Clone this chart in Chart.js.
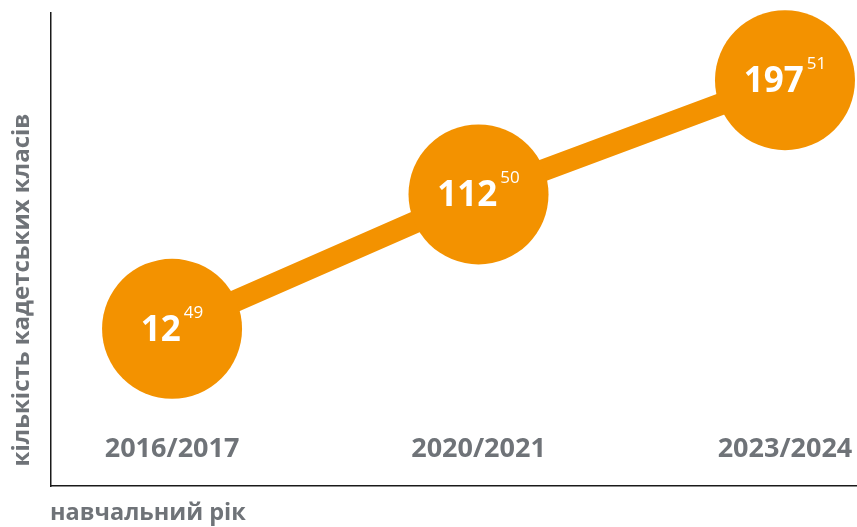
<!DOCTYPE html>
<html>
<head>
<meta charset="utf-8">
<script src="https://cdn.jsdelivr.net/npm/chart.js@4"></script>
<style>
    html, body { margin: 0; padding: 0; background: #fff; }
    #wrap { width: 857px; height: 527px; position: relative; }
</style>
</head>
<body>
<div id="wrap"><canvas id="classesChart"></canvas></div>
<script>
// Data
const years = ["2016/2017", "2020/2021", "2023/2024"];
const classes = [12, 112, 197];
const notes = ["49", "50", "51"]; // footnote marks

const ORANGE = "#f39200";
const GREY = "#6f7378";
const FONT = "'Open Sans', sans-serif";

// draws values in circles, year labels and axis titles
const labelsPlugin = {
    id: "labelsPlugin",
    afterDatasetsDraw(chart) {
        const ctx = chart.ctx;
        const xs = chart.scales.x;
        const ys = chart.scales.y;
        const area = chart.chartArea;
        ctx.save();

        classes.forEach((v, i) => {
            const cx = xs.getPixelForValue(i);
            const cy = ys.getPixelForValue(v);
            ctx.font = "bold 35px " + FONT;
            const mainW = ctx.measureText(String(v)).width;
            ctx.font = "17px " + FONT;
            const supW = ctx.measureText(notes[i]).width;
            const left = cx - (mainW + 3 + supW) / 2;
            ctx.fillStyle = "#fff";
            ctx.textBaseline = "alphabetic";
            ctx.textAlign = "left";
            ctx.font = "bold 35px " + FONT;
            ctx.fillText(String(v), left, cy + 12);
            ctx.font = "17px " + FONT;
            ctx.fillText(notes[i], left + mainW + 3, cy - 11);

            // year label
            ctx.fillStyle = GREY;
            ctx.textAlign = "center";
            ctx.textBaseline = "middle";
            ctx.font = "bold 27px " + FONT;
            ctx.fillText(years[i], cx, 449);
        });

        // x title
        ctx.textAlign = "left";
        ctx.font = "bold 23.5px " + FONT;
        ctx.fillText("навчальний рік", 50, 513);

        // y title
        ctx.translate(22, 290);
        ctx.rotate(-Math.PI / 2);
        ctx.textAlign = "center";
        ctx.font = "bold 24px " + FONT;
        ctx.fillText("кількість кадетських класів", 0, 0);
        ctx.restore();
    },
};

new Chart(document.getElementById("classesChart"), {
    type: "line",
    data: {
        datasets: [
            {
                data: classes.map((v, i) => ({ x: i, y: v })),
                borderColor: ORANGE,
                borderWidth: 22,
                pointRadius: 70,
                pointHoverRadius: 70,
                pointBackgroundColor: ORANGE,
                pointBorderWidth: 0,
                tension: 0,
                clip: false,
            },
        ],
    },
    options: {
        responsive: true,
        maintainAspectRatio: false,
        animation: false,
        events: [],
        layout: {
            autoPadding: false,
            padding: { left: 43, top: 13, right: 0, bottom: 33 },
        },
        plugins: {
            legend: { display: false },
            tooltip: { enabled: false },
        },
        scales: {
            x: {
                type: "linear",
                min: -0.395,
                max: 2.235,
                grid: { display: false },
                border: { display: true, color: "#1a1a1a", width: 1.5 },
                ticks: { display: false },
            },
            y: {
                min: -105,
                max: 247,
                grid: { display: false },
                border: { display: true, color: "#1a1a1a", width: 1.5 },
                ticks: { display: false },
            },
        },
    },
    plugins: [labelsPlugin],
});
</script>
</body>
</html>
